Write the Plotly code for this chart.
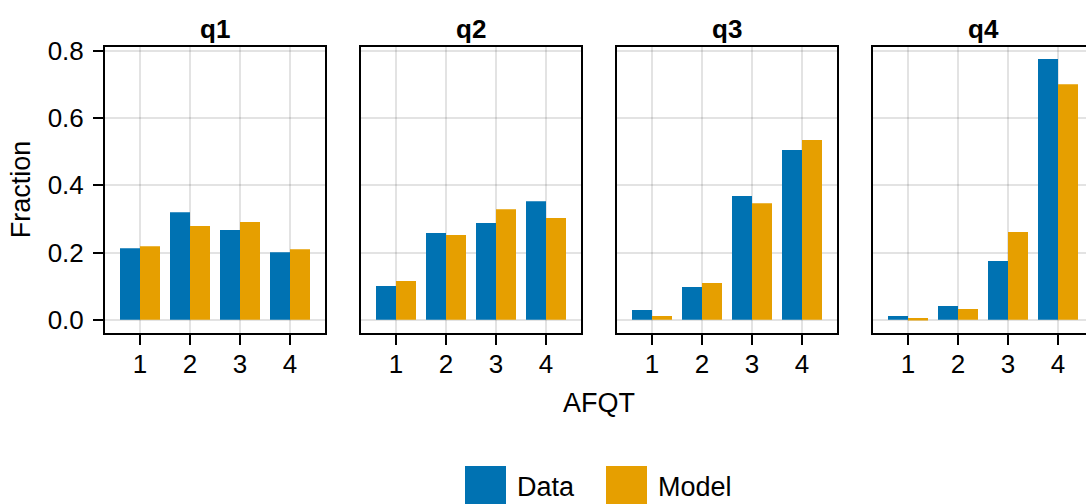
import plotly.graph_objects as go

# ---------------- data ----------------
categories = [1, 2, 3, 4]
panel_titles = ["q1", "q2", "q3", "q4"]
data_q1 = [0.213, 0.320, 0.267, 0.201]
model_q1 = [0.219, 0.279, 0.291, 0.210]
data_q2 = [0.100, 0.258, 0.288, 0.353]
model_q2 = [0.115, 0.252, 0.329, 0.303]
data_q3 = [0.029, 0.097, 0.368, 0.505]
model_q3 = [0.011, 0.109, 0.347, 0.535]
data_q4 = [0.011, 0.041, 0.175, 0.776]
model_q4 = [0.005, 0.032, 0.261, 0.701]
y_tick_vals = [0.0, 0.2, 0.4, 0.6, 0.8]
y_tick_text = ["0.0", "0.2", "0.4", "0.6", "0.8"]
x_tick_text = ["1", "2", "3", "4"]
series_names = ["Data", "Model"]

data_series = [data_q1, data_q2, data_q3, data_q4]
model_series = [model_q1, model_q2, model_q3, model_q4]

# ---------------- style ----------------
W, H = 1086, 504
BLUE = "#0072B2"
ORANGE = "#E69F00"
FONT = "Liberation Sans, Arial, Helvetica, sans-serif"
GRID = "rgba(0,0,0,0.11)"
TICK_FS = 26
LABEL_FS = 27

panel_left_px = [105, 361, 617, 873]
panel_w_px = 220
x_unit_px = 50.0
y_top_px, y_bot_px = 46.5, 332.5
y_range = [-0.0381, 0.8134]

fig = go.Figure()
layout = dict(
    width=W, height=H, autosize=False,
    margin=dict(l=0, r=0, t=0, b=0, pad=0, autoexpand=False),
    paper_bgcolor="white", plot_bgcolor="white",
    barmode="group", bargap=0.2, bargroupgap=0.0,
    showlegend=False,
    font=dict(family=FONT, size=TICK_FS, color="black"),
)

annotations = []
shapes = []

for i in range(4):
    ax = "" if i == 0 else str(i + 1)
    xref, yref = "x" + ax, "y" + ax
    fig.add_trace(go.Bar(x=categories, y=data_series[i], name=series_names[0],
                         marker=dict(color=BLUE, line=dict(width=0)),
                         xaxis=xref, yaxis=yref, offsetgroup="d"))
    fig.add_trace(go.Bar(x=categories, y=model_series[i], name=series_names[1],
                         marker=dict(color=ORANGE, line=dict(width=0)),
                         xaxis=xref, yaxis=yref, offsetgroup="m"))
    left = panel_left_px[i]
    right = min(left + panel_w_px, W)
    x_end = 0.3 + (right - left) / x_unit_px
    layout["xaxis" + ax] = dict(
        domain=[left / W, right / W], range=[0.3, x_end], anchor=yref,
        tickvals=categories, ticktext=x_tick_text,
        ticks="outside", ticklen=10, tickwidth=2, tickcolor="black",
        ticklabelstandoff=-3,
        showline=True, linewidth=2, linecolor="black", mirror=True,
        showgrid=True, gridcolor=GRID, gridwidth=2, zeroline=False,
        tickfont=dict(size=TICK_FS, family=FONT, color="black"),
        fixedrange=True, automargin=False,
    )
    ydict = dict(
        domain=[1 - y_bot_px / H, 1 - y_top_px / H], range=y_range, anchor=xref,
        tickvals=y_tick_vals, ticktext=y_tick_text,
        showline=True, linewidth=2, linecolor="black",
        mirror=(i < 3),
        showgrid=True, gridcolor=GRID, gridwidth=2, zeroline=False,
        tickfont=dict(size=TICK_FS, family=FONT, color="black"),
        fixedrange=True, automargin=False,
    )
    if i == 0:
        ydict.update(ticks="outside", ticklen=10, tickwidth=2, tickcolor="black",
                     showticklabels=True, ticklabelstandoff=4,
                     title=dict(text="Fraction", font=dict(size=LABEL_FS, family=FONT), standoff=9))
    else:
        ydict.update(ticks="", showticklabels=False)
    layout["yaxis" + ax] = ydict

    cx = (left + panel_w_px / 2) / W
    annotations.append(dict(text="<b>" + panel_titles[i] + "</b>", x=cx, y=1 - 29 / H,
                            xref="paper", yref="paper", xanchor="center", yanchor="middle",
                            showarrow=False, font=dict(size=26, family=FONT, color="black")))

# shared x-axis label
annotations.append(dict(text="AFQT", x=599 / W, y=1 - 403 / H, xref="paper", yref="paper",
                        xanchor="center", yanchor="middle", showarrow=False,
                        font=dict(size=LABEL_FS, family=FONT, color="black")))

# legend drawn as patches + text
legend_items = [(series_names[0], BLUE, 465), (series_names[1], ORANGE, 606)]
for name, col, x0 in legend_items:
    shapes.append(dict(type="rect", xref="paper", yref="paper",
                       x0=x0 / W, x1=(x0 + 41) / W, y0=1 - 507 / H, y1=1 - 466 / H,
                       fillcolor=col, line=dict(width=0)))
    annotations.append(dict(text=name, x=(x0 + 50) / W, y=1 - 487 / H, xref="paper", yref="paper",
                            xanchor="left", yanchor="middle", showarrow=False,
                            font=dict(size=LABEL_FS, family=FONT, color="black")))

layout["annotations"] = annotations
layout["shapes"] = shapes
fig.update_layout(**layout)
fig.write_html("out.html", config={"displayModeBar": False})
